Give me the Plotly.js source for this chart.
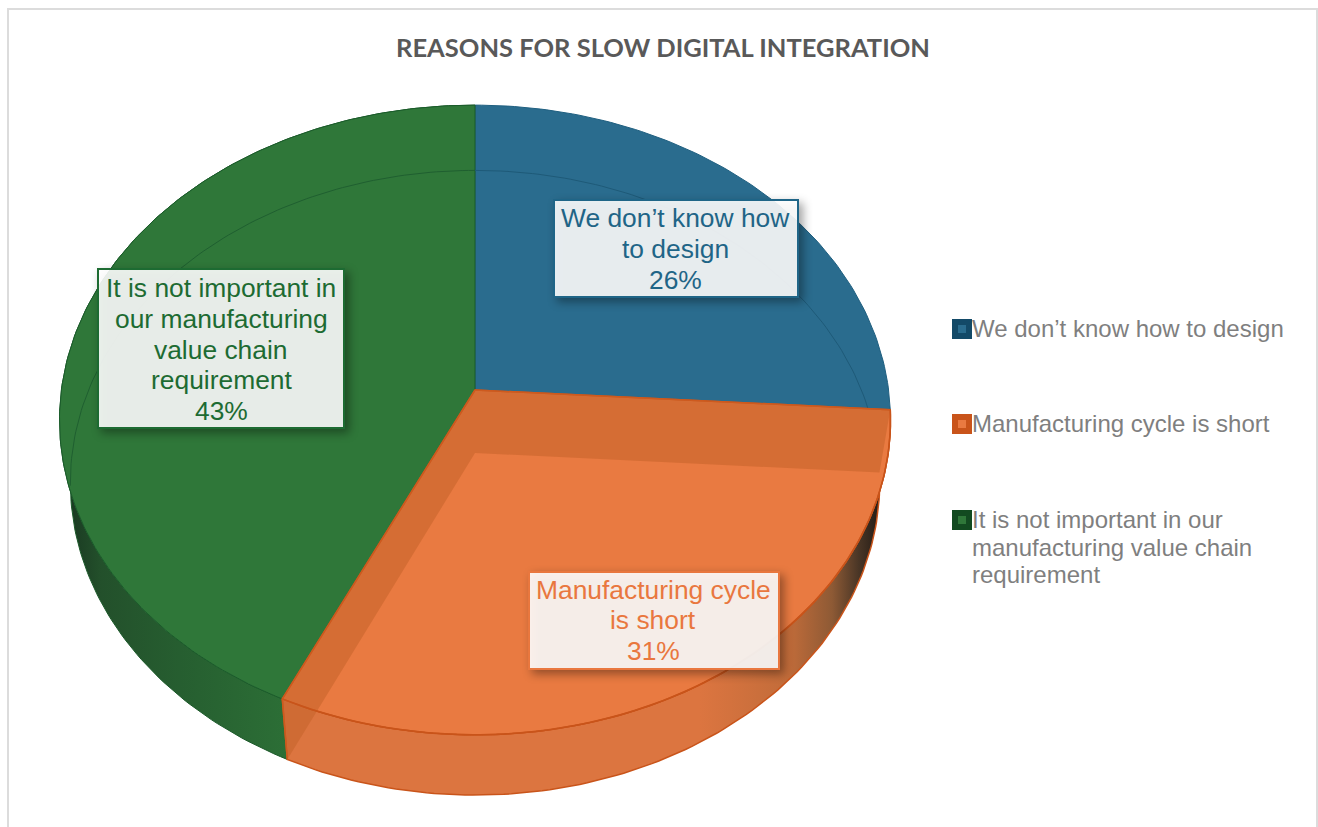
<!DOCTYPE html>
<html>
<head>
<meta charset="utf-8">
<script src="https://cdn.plot.ly/plotly-3.0.1.min.js"></script>
<style>
  html, body { margin: 0; padding: 0; background: #fff; overflow: hidden; }
  .annotation .bg { filter: drop-shadow(4px 4px 5px rgba(0,0,0,0.4)); }
</style>
</head>
<body>
<div id="chart" style="width:1318px;height:827px"></div>
<script>
// Share of respondents for each reason, in clockwise order from twelve o'clock.
const categories = ["We don’t know how to design", "Manufacturing cycle is short", "It is not important in our manufacturing value chain requirement"];
const shares = [26, 31, 43];
const sliceLabels = [["We don’t know how", "to design"], ["Manufacturing cycle", "is short"], ["It is not important in", "our manufacturing", "value chain", "requirement"]];
const legendLines = [["We don’t know how to design"], ["Manufacturing cycle is short"], ["It is not important in our", "manufacturing value chain", "requirement"]];
const chartTitle = "REASONS FOR SLOW DIGITAL INTEGRATION";

// Slice colours: top face, darker edge, label text.
const faceColors = ["#2A6C8E", "#E97A41", "#2F7739"];
const edgeColors = ["#134A68", "#C9541A", "#124A20"];
const textColors = ["#1F6587", "#E9773E", "#1D6B32"];

// Perspective disc: a point on the rim at angle t is projected with a small foreshortening term.
const CX = 475, TOP_Y = 390, BOTTOM_Y = 453, RX = 413.6, RY = 312, P = 0.0952;
const FLOOR_SX = 0.974, FLOOR_SY = 0.992;

function project(deg, floor) {
  const t = deg * Math.PI / 180, u = Math.sin(t), v = Math.cos(t), w = 1 + P * v;
  return floor
    ? [CX + FLOOR_SX * RX * u / w, BOTTOM_Y - FLOOR_SY * RY * v / w]
    : [CX + RX * u / w, TOP_Y - RY * v / w];
}
function arc(a, b, floor) {
  const pts = [], n = Math.max(2, Math.ceil(Math.abs(b - a)));
  for (let i = 0; i <= n; i++) pts.push(project(a + (b - a) * i / n, floor));
  return pts;
}
function poly(pts, style) {
  return Object.assign({
    type: "scatter", mode: "lines", x: pts.map(p => p[0]), y: pts.map(p => p[1]),
    hoverinfo: "skip", showlegend: false
  }, style);
}

// Slice boundaries in degrees, derived from the shares.
const total = shares.reduce((a, b) => a + b, 0);
const bounds = [0];
shares.forEach(s => bounds.push(bounds[bounds.length - 1] + s / total * 360));
const [, a1, a2] = bounds;
const apexTop = [CX, TOP_Y], apexFloor = [CX, BOTTOM_Y];
const gradient = (start, stop, stops) => ({ type: "horizontal", start, stop, colorscale: stops });

const traces = [];

// Outer walls, shaded toward the silhouette.
traces.push(poly(arc(a2, 360, false).concat(arc(360, a2, true)), {
  fill: "toself", line: { color: "#1C5A2A", width: 1 },
  fillgradient: gradient(70, 290, [[0, "#1A3A22"], [0.14, "#23502B"], [0.5, "#265E30"], [1, "#2C6F36"]])
}));
traces.push(poly(arc(a1, a2, false).concat(arc(a2, a1, true)), {
  fill: "toself", line: { color: "#C9541A", width: 1.5 },
  fillgradient: gradient(700, 876, [[0, "#DC7540"], [0.5, "#C26C3A"], [0.75, "#8E5A35"], [0.9, "#4A3626"], [1, "#2A2018"]])
}));

// Blue and green top faces.
traces.push(poly([apexTop].concat(arc(bounds[0], a1, false), [apexTop]), {
  name: categories[0], fill: "toself", fillcolor: faceColors[0], line: { color: "#1F5F80", width: 1 }
}));
traces.push(poly([apexTop].concat(arc(a2, 360, false), [apexTop]), {
  name: categories[2], fill: "toself", fillcolor: faceColors[2], line: { color: "#1B5C2B", width: 1 }
}));

// Far rim of the floor, visible through the glassy top.
traces.push(poly(arc(0, 94, true), { line: { color: "#1E5A78", width: 1 } }));
traces.push(poly(arc(264, 360, true), { line: { color: "#1F5F30", width: 1 } }));

// Orange top face and the two cut walls inside it.
traces.push(poly([apexTop].concat(arc(a1, a2, false), [apexTop]), {
  name: categories[1], fill: "toself", fillcolor: faceColors[1], line: { color: "#C9541A", width: 1.5 }
}));
const cutFill = "rgba(196,98,42,0.55)";
traces.push(poly([apexTop, project(a1, false), project(a1, true), apexFloor, apexTop], {
  fill: "toself", fillcolor: cutFill, line: { color: "rgba(0,0,0,0)", width: 0 }
}));
traces.push(poly([apexTop, project(a2, false), project(a2, true), apexFloor, apexTop], {
  fill: "toself", fillcolor: cutFill, line: { color: "rgba(0,0,0,0)", width: 0 }
}));
traces.push(poly([project(a1, false), apexTop, project(a2, false), project(a2, true)], { line: { color: "#CE5A1E", width: 1.5 } }));
traces.push(poly(arc(a1, a2, false), { line: { color: "#C9541A", width: 1.5 } }));

// Legend swatches: dark square with a lighter centre.
const legendX = 962, legendRows = [329, 424, 520], lineStep = 27.5;
traces.push({
  type: "scatter", mode: "markers", x: legendRows.map(() => legendX), y: legendRows,
  hoverinfo: "skip", showlegend: false,
  marker: { symbol: "square", size: 14, color: faceColors, line: { color: edgeColors, width: 6 } }
});

// Slice labels: a shadowed box, then the category name and share line by line.
const labelFont = "Liberation Sans, Arial, sans-serif";
const labelBoxes = [
  { x: 676, y: 248, w: 242, h: 95, cx: 675, firstLine: 218 },
  { x: 654, y: 620, w: 248, h: 95, cx: 653, firstLine: 589.5 },
  { x: 221, y: 348, w: 244, h: 157, cx: 221, firstLine: 288 }
];
const labelStep = 30.8;
const annotations = labelBoxes.map((b, i) => ({
  xref: "x", yref: "y", x: b.x, y: b.y, width: b.w, height: b.h, showarrow: false, text: "&nbsp;",
  bgcolor: "rgba(255,255,255,0.895)", bordercolor: textColors[i], borderwidth: 2, borderpad: 0
}));
labelBoxes.forEach((b, i) => sliceLabels[i].concat(shares[i] + "%").forEach((line, j) => annotations.push({
  xref: "x", yref: "y", x: b.cx, y: b.firstLine + j * labelStep, yanchor: "middle", showarrow: false, text: line,
  borderpad: 0, font: { family: labelFont, size: 26.4, color: textColors[i] }
})));

// Legend text, one annotation per wrapped line.
legendLines.forEach((lines, i) => lines.forEach((line, j) => annotations.push({
  xref: "x", yref: "y", x: 971, y: legendRows[i] - 0.5 + j * lineStep, xanchor: "left", yanchor: "middle",
  showarrow: false, text: line, borderpad: 0,
  font: { family: labelFont, size: 24, color: "#7F7F7F" }
})));

const layout = {
  width: 1318, height: 827, margin: { l: 0, r: 0, t: 0, b: 0 },
  paper_bgcolor: "#fff", plot_bgcolor: "#fff", showlegend: false,
  title: {
    text: "<b>" + chartTitle + "</b>", x: 663 / 1318, xanchor: "center", y: 1 - 48 / 827, yanchor: "middle",
    font: { family: "Lato, sans-serif", size: 25.5, color: "#595959" }
  },
  xaxis: { range: [0, 1318], visible: false, fixedrange: true },
  yaxis: { range: [827, 0], visible: false, fixedrange: true },
  shapes: [{ type: "rect", xref: "x", yref: "y", x0: 8, y0: 9, x1: 1317, y1: 840, line: { color: "#DCDCDC", width: 2 }, layer: "below" }],
  annotations
};

Plotly.newPlot("chart", traces, layout, { displayModeBar: false, staticPlot: true });
</script>
</body>
</html>
